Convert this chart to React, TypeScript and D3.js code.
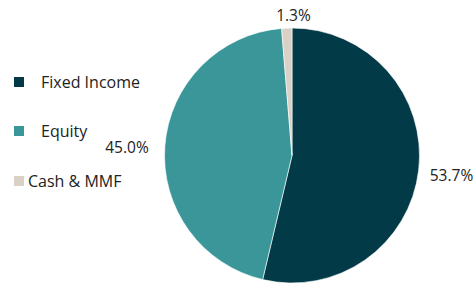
import React from "react";
import * as d3 from "d3";

const categories = ["Fixed Income", "Equity", "Cash & MMF"];
const values = [53.7, 45.0, 1.3];
const labels = ["53.7%", "45.0%", "1.3%"];
const colors = ["#023a48", "#3b9699", "#d9d1c5"];

export default function App() {
  const W = 474, H = 285;
  const cx = 292, cy = 155.5, r = 127.5;
  const pie = d3.pie<number>().sort(null).value((d) => d)(values);
  const arc = d3.arc<d3.PieArcDatum<number>>().innerRadius(0).outerRadius(r);
  const labelPos: [number, number][] = [
    [451.5, 175],
    [127, 147],
    [293.5, 15],
  ];
  const legendY = [82, 131, 181];
  const legendTextX = [41, 41, 28];
  return (
    <svg width={W} height={H} style={{ position: "absolute", left: 0, top: 0 }}
      fontFamily="'Open Sans', sans-serif">
      <g transform={`translate(${cx},${cy})`}>
        {pie.map((p, i) => (
          <path key={i} d={arc(p) || ""} fill={colors[i]} stroke="#fff" strokeWidth={0.6} />
        ))}
      </g>
      {labels.map((l, i) => (
        <text key={i} x={labelPos[i][0]} y={labelPos[i][1]} textAnchor="middle"
          dominantBaseline="central" fontSize={15.5} fill="#222">{l}</text>
      ))}
      {categories.map((c, i) => (
        <g key={c}>
          <rect x={14} y={legendY[i] - 5} width={10} height={10} fill={colors[i]} />
          <text x={legendTextX[i]} y={legendY[i]} dominantBaseline="central" fontSize={16} fill="#222">{c}</text>
        </g>
      ))}
    </svg>
  );
}
